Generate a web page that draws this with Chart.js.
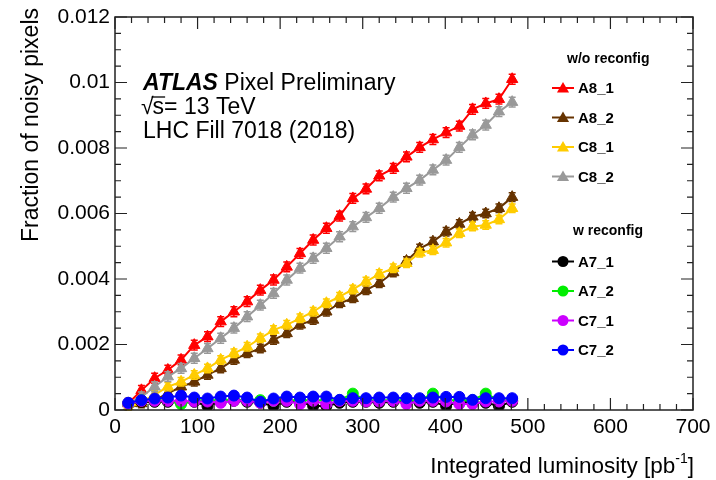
<!DOCTYPE html>
<html>
<head>
<meta charset="utf-8">
<script src="https://cdn.jsdelivr.net/npm/chart.js@4.4.1/dist/chart.umd.min.js"></script>
<style>
  html, body { margin: 0; padding: 0; background: #ffffff; }
  #wrap { width: 716px; height: 480px; position: relative; }
</style>
</head>
<body>
<div id="wrap"><canvas id="c" width="716" height="480"></canvas></div>
<script>
// ---------- data ----------
const xLumi = [16, 32, 48, 64, 80, 96, 112, 128, 144, 160, 176, 192, 208, 224, 240, 256, 272, 288, 304, 320, 337, 353, 369, 385, 401, 417, 433, 449, 465, 481];

const A8_1 = [0.0002, 0.0006, 0.00097, 0.00122, 0.00153, 0.00198, 0.00224, 0.0027, 0.0030, 0.00331, 0.00366, 0.00397, 0.00437, 0.00478, 0.00519, 0.00555, 0.00592, 0.00646, 0.00675, 0.00715, 0.00738, 0.00773, 0.00802, 0.00826, 0.00847, 0.00867, 0.00918, 0.00936, 0.00949, 0.0101];
const A8_2 = [0.00005, 0.0002, 0.0003, 0.00051, 0.00071, 0.00086, 0.00107, 0.00127, 0.00153, 0.00173, 0.00188, 0.00214, 0.00234, 0.0026, 0.00275, 0.003, 0.00326, 0.00341, 0.00366, 0.00387, 0.0042, 0.00455, 0.00493, 0.00514, 0.00544, 0.00568, 0.0059, 0.006, 0.00616, 0.0065];
const C8_1 = [0.00005, 0.00025, 0.00046, 0.00071, 0.00086, 0.00107, 0.00127, 0.00153, 0.00173, 0.00193, 0.00219, 0.00244, 0.0026, 0.0028, 0.003, 0.00326, 0.00346, 0.00368, 0.00392, 0.00415, 0.00433, 0.00448, 0.0048, 0.00488, 0.00511, 0.0054, 0.0056, 0.00565, 0.00582, 0.00616];
const C8_2 = [0.0002, 0.0004, 0.00071, 0.00102, 0.00127, 0.00158, 0.00188, 0.00219, 0.0025, 0.00285, 0.0032, 0.00356, 0.00397, 0.00433, 0.00463, 0.00494, 0.00529, 0.0056, 0.00588, 0.00616, 0.0065, 0.00677, 0.00702, 0.00733, 0.00763, 0.00802, 0.0084, 0.0087, 0.00911, 0.0094];
const A7_1 = [0.0002, 0.00025, 0.00025, 0.00025, 0.00022, 0.00025, 0.00012, 0.00025, 0.00028, 0.00025, 0.00022, 0.00012, 0.00025, 0.00025, 0.00012, 0.00012, 0.00022, 0.00025, 0.00025, 0.00022, 0.00025, 0.00025, 0.00022, 0.00025, 0.00012, 0.00025, 0.00022, 0.00022, 0.00012, 0.00025];
const A7_2 = [0.0002, 0.0003, 0.0003, 0.0003, 0.00018, 0.0003, 0.0003, 0.0003, 0.00032, 0.0003, 0.0003, 0.00028, 0.0003, 0.0003, 0.0003, 0.0003, 0.0003, 0.0005, 0.0003, 0.0003, 0.0003, 0.0003, 0.0003, 0.0005, 0.0003, 0.0003, 0.0003, 0.0005, 0.0003, 0.0003];
const C7_1 = [0.0002, 0.00028, 0.00028, 0.00028, 0.00028, 0.00026, 0.00026, 0.00022, 0.00028, 0.00028, 0.00022, 0.00028, 0.00028, 0.00018, 0.00028, 0.00018, 0.00028, 0.00028, 0.00026, 0.00026, 0.00028, 0.00018, 0.00028, 0.00028, 0.00026, 0.00018, 0.00018, 0.00026, 0.00026, 0.00028];
const C7_2 = [0.00022, 0.0003, 0.00035, 0.00038, 0.00044, 0.00038, 0.00035, 0.00041, 0.00044, 0.00038, 0.00025, 0.00035, 0.00041, 0.00038, 0.00041, 0.00041, 0.00031, 0.00036, 0.00036, 0.00038, 0.00038, 0.00036, 0.00036, 0.00038, 0.0004, 0.0004, 0.00031, 0.00036, 0.00036, 0.00036];

// half-size of the vertical error bars of each series (estimated, constant per series)
const seriesErrors = [0.00015, 0.00013, 0.00013, 0.00015, 0, 0, 0, 0];

const xTickValues = [0, 100, 200, 300, 400, 500, 600, 700];
const xTickLabels = ['0', '100', '200', '300', '400', '500', '600', '700'];
const yTickValues = [0, 0.002, 0.004, 0.006, 0.008, 0.01, 0.012];
const yTickLabels = ['0', '0.002', '0.004', '0.006', '0.008', '0.01', '0.012'];

const seriesNames = ['A8_1', 'A8_2', 'C8_1', 'C8_2', 'A7_1', 'A7_2', 'C7_1', 'C7_2'];
const seriesValues = [A8_1, A8_2, C8_1, C8_2, A7_1, A7_2, C7_1, C7_2];
const seriesColors = ['#ff0000', '#663300', '#ffcc00', '#999999', '#000000', '#00ee00', '#cc00ff', '#0000ff'];
const seriesMarkers = ['triangle', 'triangle', 'triangle', 'triangle', 'circle', 'circle', 'circle', 'circle'];

const headerWo = 'w/o reconfig';
const headerW = 'w reconfig';

// ---------- chart ----------
const FONT = '"Liberation Sans", Arial, Helvetica, sans-serif';

const datasets = seriesNames.map((name, i) => ({
  label: name,
  data: xLumi.map((x, k) => ({ x: x, y: seriesValues[i][k] })),
  errHalf: seriesErrors[i],
  borderColor: seriesColors[i],
  backgroundColor: seriesColors[i],
  pointBackgroundColor: seriesColors[i],
  pointBorderColor: seriesColors[i],
  pointStyle: seriesMarkers[i],
  pointRadius: seriesMarkers[i] === 'triangle' ? 6.5 : 5.5,
  pointBorderWidth: 1,
  borderWidth: 2,
  tension: 0,
  order: seriesNames.length - i
}));

function drawMarker(ctx, style, x, y, r, color) {
  ctx.fillStyle = color;
  ctx.beginPath();
  if (style === 'triangle') {
    ctx.moveTo(x, y - r);
    ctx.lineTo(x + 0.866 * r, y + 0.5 * r);
    ctx.lineTo(x - 0.866 * r, y + 0.5 * r);
    ctx.closePath();
  } else {
    ctx.arc(x, y, r, 0, Math.PI * 2);
  }
  ctx.fill();
}

const errorBarPlugin = {
  id: 'errbars',
  afterDatasetDraw(chart, args) {
    const ds = chart.data.datasets[args.index];
    if (!ds.errHalf) return;
    const ys = chart.scales.y;
    const meta = args.meta;
    const ctx = chart.ctx;
    ctx.save();
    ctx.strokeStyle = ds.borderColor;
    ctx.lineWidth = 1.5;
    ctx.beginPath();
    meta.data.forEach((pt, k) => {
      const v = ds.data[k].y;
      const yTop = ys.getPixelForValue(v + ds.errHalf);
      const yBot = ys.getPixelForValue(Math.max(0, v - ds.errHalf));
      ctx.moveTo(pt.x, yTop); ctx.lineTo(pt.x, yBot);
      ctx.moveTo(pt.x - 3.5, yTop); ctx.lineTo(pt.x + 3.5, yTop);
      ctx.moveTo(pt.x - 3.5, yBot); ctx.lineTo(pt.x + 3.5, yBot);
    });
    ctx.stroke();
    ctx.restore();
  }
};

const decorPlugin = {
  id: 'decor',
  beforeDraw(chart) {
    const ctx = chart.ctx;
    ctx.save();
    ctx.fillStyle = '#ffffff';
    ctx.fillRect(0, 0, chart.width, chart.height);
    ctx.restore();
  },
  afterDraw(chart) {
    const { ctx, chartArea: a, scales } = chart;
    const xs = scales.x, ys = scales.y;
    ctx.save();
    // frame
    ctx.strokeStyle = '#222222';
    ctx.lineWidth = 1.5;
    ctx.strokeRect(a.left, a.top, a.right - a.left, a.bottom - a.top);
    // x ticks (major every 100, minor every 20)
    ctx.lineWidth = 1.2;
    ctx.beginPath();
    for (let k = 0; k <= 35; k++) {
      const v = k * 20;
      const px = xs.getPixelForValue(v);
      const L = (k % 5 === 0) ? 12 : 6;
      ctx.moveTo(px, a.bottom); ctx.lineTo(px, a.bottom - L);
      ctx.moveTo(px, a.top); ctx.lineTo(px, a.top + L);
    }
    // y ticks (major every 0.002, minor every 0.0005)
    for (let k = 0; k <= 24; k++) {
      const v = k * 0.0005;
      const py = ys.getPixelForValue(v);
      const L = (k % 4 === 0) ? 12 : 6;
      ctx.moveTo(a.left, py); ctx.lineTo(a.left + L, py);
      ctx.moveTo(a.right, py); ctx.lineTo(a.right - L, py);
    }
    ctx.stroke();

    // axis titles
    ctx.fillStyle = '#000000';
    ctx.textBaseline = 'alphabetic';
    // y title (rotated, aligned to the top)
    ctx.font = '23px ' + FONT;
    ctx.save();
    ctx.translate(38, 8);
    ctx.rotate(-Math.PI / 2);
    ctx.textAlign = 'right';
    ctx.fillText('Fraction of noisy pixels', 0, 0);
    ctx.restore();
    // x title (aligned right)
    const base = 'Integrated luminosity [pb';
    ctx.font = '22.5px ' + FONT;
    const wClose = ctx.measureText(']').width;
    ctx.font = '14px ' + FONT;
    const wSup = ctx.measureText('-1').width;
    ctx.font = '22.5px ' + FONT;
    const wBase = ctx.measureText(base).width;
    const xEnd = 694;
    const xStart = xEnd - wClose - wSup - wBase;
    ctx.textAlign = 'left';
    ctx.fillText(base, xStart, 473);
    ctx.font = '14px ' + FONT;
    ctx.fillText('-1', xStart + wBase, 463);
    ctx.font = '22.5px ' + FONT;
    ctx.fillText(']', xStart + wBase + wSup, 473);

    // ATLAS label
    ctx.font = 'italic bold 23px ' + FONT;
    ctx.fillText('ATLAS', 143, 90);
    const wAtlas = ctx.measureText('ATLAS ').width;
    ctx.font = '23px ' + FONT;
    ctx.fillText('Pixel Preliminary', 143 + wAtlas, 90);
    // sqrt(s)
    ctx.fillText('\u221A', 141, 114);
    const wRoot = ctx.measureText('\u221A').width;
    ctx.fillText('s= 13 TeV', 141 + wRoot - 1, 114);
    const wS = ctx.measureText('s').width;
    ctx.beginPath();
    ctx.lineWidth = 1.3;
    ctx.strokeStyle = '#000000';
    ctx.moveTo(141 + wRoot - 2, 97);
    ctx.lineTo(141 + wRoot + wS, 97);
    ctx.stroke();
    ctx.fillText('LHC Fill 7018 (2018)', 143, 138);

    // legend
    ctx.font = 'bold 14px ' + FONT;
    ctx.textBaseline = 'middle';
    ctx.fillText(headerWo, 567, 59);
    ctx.fillText(headerW, 573, 231);
    const rowsY = [88, 117.5, 147, 176.5, 261.5, 291, 320.5, 350];
    ctx.font = 'bold 15px ' + FONT;
    seriesNames.forEach((name, i) => {
      const yy = rowsY[i];
      ctx.strokeStyle = seriesColors[i];
      ctx.lineWidth = 2;
      ctx.beginPath();
      ctx.moveTo(552, yy); ctx.lineTo(574, yy);
      ctx.stroke();
      drawMarker(ctx, seriesMarkers[i], 563, yy + (seriesMarkers[i] === 'triangle' ? 1 : 0), seriesMarkers[i] === 'triangle' ? 7 : 5.5, seriesColors[i]);
      ctx.fillStyle = '#000000';
      ctx.fillText(name, 578, yy + 1);
    });
    ctx.restore();
  }
};

function zeroPad(scale) {
  scale.paddingLeft = 0; scale.paddingRight = 0;
  scale.paddingTop = 0; scale.paddingBottom = 0;
}

new Chart(document.getElementById('c'), {
  type: 'line',
  data: { datasets: datasets },
  options: {
    responsive: false,
    devicePixelRatio: 1,
    animation: false,
    events: [],
    layout: { padding: { left: 0, top: 17, right: 23, bottom: 0 } },
    plugins: { legend: { display: false }, tooltip: { enabled: false } },
    scales: {
      x: {
        type: 'linear',
        min: 0, max: 700,
        grid: { display: false, drawTicks: false },
        border: { display: false },
        afterBuildTicks: (s) => { s.ticks = xTickValues.map(v => ({ value: v })); },
        afterFit: (s) => { s.height = 70; zeroPad(s); },
        ticks: {
          autoSkip: false, maxRotation: 0,
          padding: 5,
          color: '#000000',
          font: { family: FONT, size: 21 },
          callback: (v, i) => xTickLabels[i]
        }
      },
      y: {
        type: 'linear',
        min: 0, max: 0.012,
        grid: { display: false, drawTicks: false },
        border: { display: false },
        afterBuildTicks: (s) => { s.ticks = yTickValues.map(v => ({ value: v })); },
        afterFit: (s) => { s.width = 115; zeroPad(s); },
        ticks: {
          autoSkip: false,
          padding: 5,
          color: '#000000',
          font: { family: FONT, size: 21 },
          callback: (v, i) => yTickLabels[i]
        }
      }
    }
  },
  plugins: [errorBarPlugin, decorPlugin]
});
</script>
</body>
</html>
